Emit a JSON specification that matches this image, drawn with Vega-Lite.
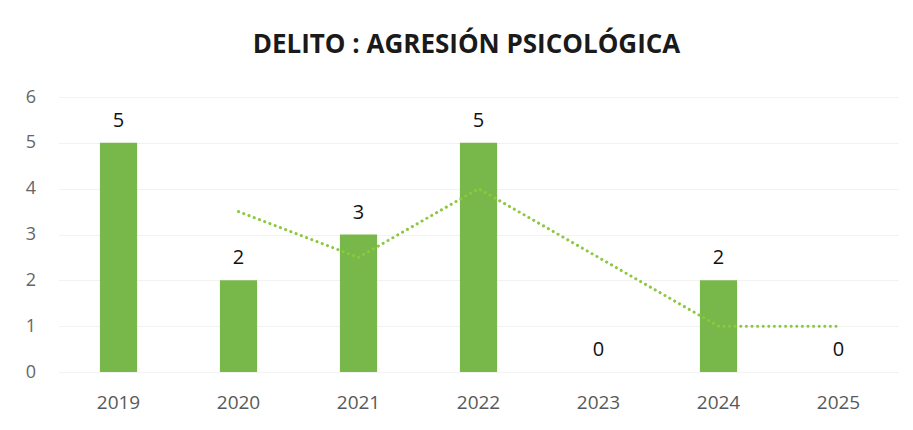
{
  "$schema": "https://vega.github.io/schema/vega-lite/v6.json",
  "autosize": {"type": "none"},
  "width": 840,
  "height": 275,
  "padding": {"left": 58.5, "top": 97, "right": 14.5, "bottom": 58},
  "background": "white",
  "config": {"view": {"stroke": null}},
  "title": {
    "text": "DELITO : AGRESIÓN PSICOLÓGICA",
    "font": "Open Sans",
    "fontSize": 26,
    "fontWeight": "bold",
    "color": "#1a1a1a",
    "anchor": "middle",
    "dx": -12,
    "offset": 30
  },
  "data": {
    "values": [
      {"year": "2019", "count": 5, "trend": null},
      {"year": "2020", "count": 2, "trend": 3.5},
      {"year": "2021", "count": 3, "trend": 2.5},
      {"year": "2022", "count": 5, "trend": 4},
      {"year": "2023", "count": 0, "trend": 2.5},
      {"year": "2024", "count": 2, "trend": 1},
      {"year": "2025", "count": 0, "trend": 1}
    ]
  },
  "encoding": {
    "x": {
      "field": "year",
      "type": "ordinal",
      "scale": {"paddingInner": 0.69, "paddingOuter": 0.345},
      "axis": {
        "title": null,
        "labelAngle": 0,
        "labelFont": "Open Sans",
        "labelFontSize": 19,
        "labelColor": "#595959",
        "labelPadding": 21,
        "domain": false,
        "ticks": false,
        "grid": false
      }
    },
    "y": {
      "field": "count",
      "type": "quantitative",
      "scale": {"domain": [0, 6]},
      "axis": {
        "title": null,
        "values": [0, 1, 2, 3, 4, 5, 6],
        "labelOverlap": false,
        "labelFont": "Open Sans",
        "labelFontSize": 18,
        "labelColor": "#666666",
        "labelPadding": 23,
        "domain": false,
        "ticks": false,
        "grid": true,
        "gridColor": "#f2f2f2",
        "gridWidth": 1
      }
    }
  },
  "layer": [
    {
      "mark": {"type": "bar", "color": "#78B84A"}
    },
    {
      "mark": {
        "type": "line",
        "color": "#8CC83F",
        "strokeWidth": 3,
        "strokeDash": [0.1, 5.5],
        "strokeCap": "round"
      },
      "transform": [{"filter": "datum.trend != null"}],
      "encoding": {
        "y": {
          "field": "trend",
          "type": "quantitative",
          "scale": {"domain": [0, 6]},
          "axis": {
            "title": null,
            "values": [0, 1, 2, 3, 4, 5, 6],
            "labelOverlap": false,
            "labelFont": "Open Sans",
            "labelFontSize": 18,
            "labelColor": "#666666",
            "labelPadding": 23,
            "domain": false,
            "ticks": false,
            "grid": true,
            "gridColor": "#f2f2f2",
            "gridWidth": 1
          }
        }
      }
    },
    {
      "mark": {
        "type": "text",
        "font": "Open Sans",
        "fontSize": 20,
        "color": "#111111",
        "baseline": "bottom",
        "dy": -12
      },
      "encoding": {
        "text": {"field": "count", "type": "quantitative"}
      }
    }
  ]
}
